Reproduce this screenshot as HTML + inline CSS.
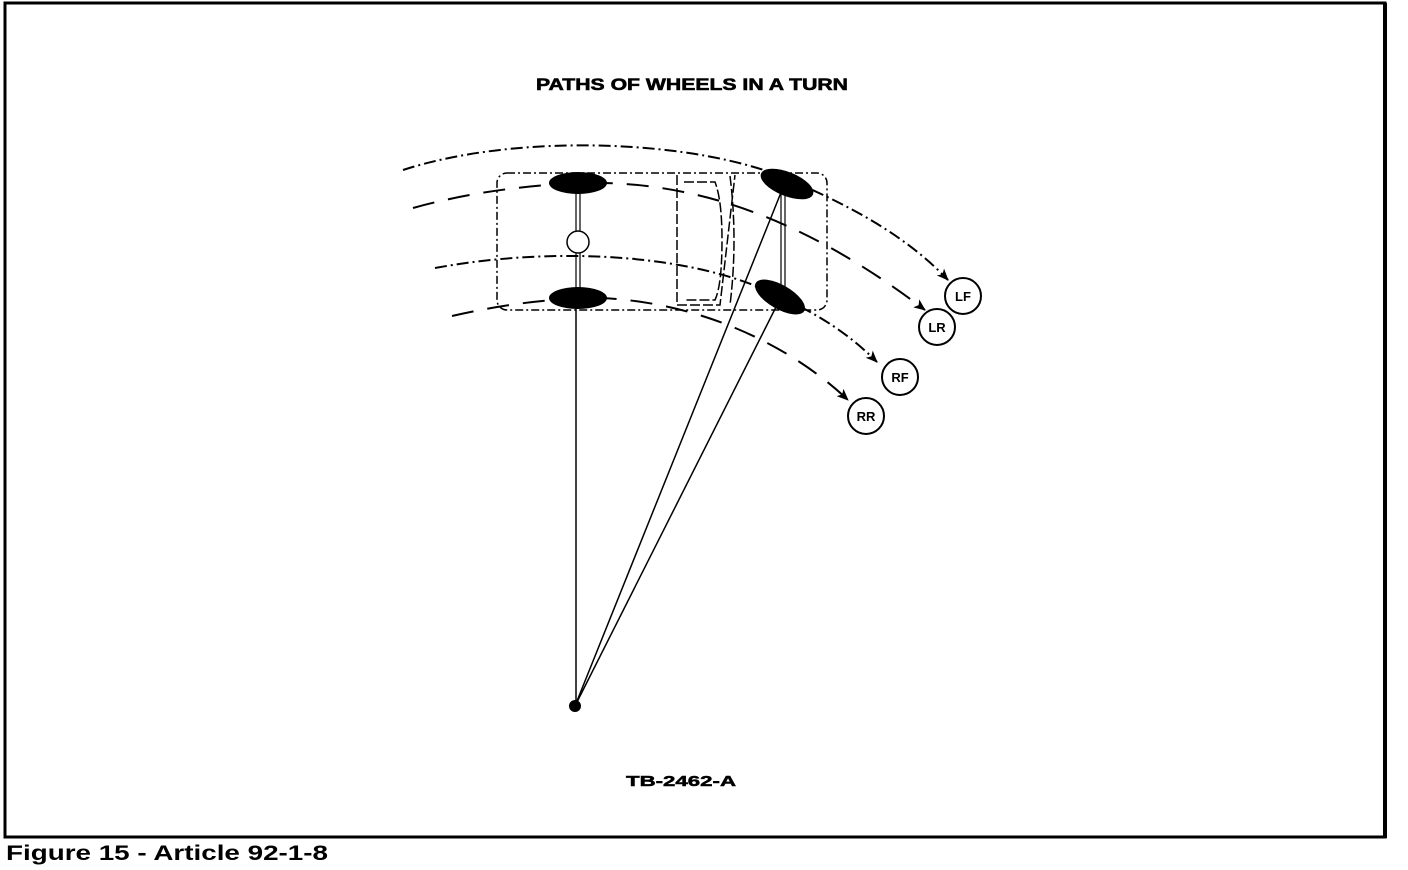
<!DOCTYPE html>
<html><head><style>
html,body{margin:0;padding:0;background:#fff;}
svg{display:block;}
text{font-family:"Liberation Sans",sans-serif;font-weight:bold;}
</style></head><body>
<svg width="1408" height="870" viewBox="0 0 1408 870" xmlns="http://www.w3.org/2000/svg">
<defs>
<marker id="ah" markerWidth="12" markerHeight="10" refX="11" refY="5" orient="auto" markerUnits="userSpaceOnUse">
<path d="M0,0 L12,5 L0,10 L3,5 Z" fill="#000"/></marker>
</defs>
<rect x="5" y="3" width="1380" height="834" fill="none" stroke="#000" stroke-width="3"/>
<line x1="1385" y1="3" x2="1385" y2="838" stroke="#000" stroke-width="4"/>
<text x="692" y="90" font-size="17" text-anchor="middle" textLength="312" lengthAdjust="spacingAndGlyphs" stroke="#000" stroke-width="0.6">PATHS OF WHEELS IN A TURN</text>

<rect x="497" y="173" width="330" height="137" rx="10" fill="none" stroke="#000" stroke-width="1.5" stroke-dasharray="8,3,2,3"/>
<path d="M677,175 L677,305 L720,305 L735,175" fill="none" stroke="#000" stroke-width="1.5" stroke-dasharray="10,3"/>
<path d="M684,182 L715,182 Q722,200 722,240 Q722,285 715,300 L684,300" fill="none" stroke="#000" stroke-width="1.5" stroke-dasharray="10,3"/>
<path d="M730,176 Q738,240 730,305" fill="none" stroke="#000" stroke-width="1.5" stroke-dasharray="10,3"/>

<path d="M403,170 C520,132 700,140 790,180 C860,210 910,240 948,280" fill="none" stroke="#000" stroke-width="2" stroke-dasharray="12,4,2,4" marker-end="url(#ah)"/>
<path d="M413,208 C470,192 530,185 580,183 C690,180 800,215 925,310" fill="none" stroke="#000" stroke-width="2" stroke-dasharray="22,14" marker-end="url(#ah)"/>
<path d="M435,268 C560,245 700,255 780,297 C820,315 850,335 877,362" fill="none" stroke="#000" stroke-width="2" stroke-dasharray="12,4,2,4" marker-end="url(#ah)"/>
<path d="M452,316 C500,305 550,298 600,298 C700,302 790,345 848,400" fill="none" stroke="#000" stroke-width="2" stroke-dasharray="22,14" marker-end="url(#ah)"/>

<line x1="576" y1="190" x2="576" y2="290" stroke="#000" stroke-width="1.2"/>
<line x1="580" y1="190" x2="580" y2="290" stroke="#000" stroke-width="1.2"/>
<circle cx="578" cy="242" r="11" fill="#fff" stroke="#000" stroke-width="1.5"/>
<line x1="781" y1="190" x2="781" y2="290" stroke="#000" stroke-width="1.2"/>
<line x1="785" y1="190" x2="785" y2="290" stroke="#000" stroke-width="1.2"/>

<ellipse cx="578" cy="183" rx="29" ry="11" fill="#000"/>
<ellipse cx="578" cy="298" rx="29" ry="11" fill="#000"/>
<ellipse cx="787" cy="184" rx="28" ry="12" fill="#000" transform="rotate(22 787 184)"/>
<ellipse cx="780" cy="297" rx="28" ry="12" fill="#000" transform="rotate(30 780 297)"/>

<line x1="576" y1="308" x2="576" y2="706" stroke="#000" stroke-width="1.5"/>
<line x1="575" y1="706" x2="782" y2="190" stroke="#000" stroke-width="1.5"/>
<line x1="575" y1="706" x2="777" y2="305" stroke="#000" stroke-width="1.5"/>
<circle cx="575" cy="706" r="6" fill="#000"/>

<g fill="#fff" stroke="#000" stroke-width="2">
<circle cx="963" cy="296" r="18"/><circle cx="937" cy="327" r="18"/>
<circle cx="900" cy="377" r="18"/><circle cx="866" cy="416" r="18"/>
</g>
<g font-size="13" text-anchor="middle">
<text x="963" y="301">LF</text><text x="937" y="332">LR</text>
<text x="900" y="382">RF</text><text x="866" y="421">RR</text>
</g>
<text x="681" y="786" font-size="15" text-anchor="middle" textLength="110" lengthAdjust="spacingAndGlyphs" stroke="#000" stroke-width="0.5">TB-2462-A</text>
<text x="6" y="860" font-size="21" textLength="322" lengthAdjust="spacingAndGlyphs">Figure 15 - Article 92-1-8</text>
</svg>
</body></html>
